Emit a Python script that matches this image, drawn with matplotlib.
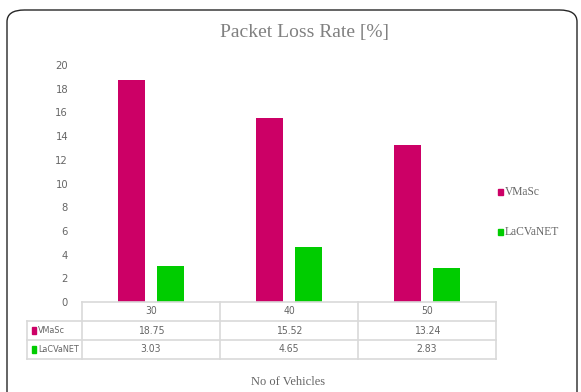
import matplotlib
matplotlib.use("Agg")
import matplotlib.pyplot as plt
from matplotlib.patches import FancyBboxPatch, Rectangle
from matplotlib import font_manager

categories = ["30", "40", "50"]
series_names = ["VMaSc", "LaCVaNET"]
vmasc = [18.75, 15.52, 13.24]
lacvanet = [3.03, 4.65, 2.83]
value_labels = [["18.75", "15.52", "13.24"], ["3.03", "4.65", "2.83"]]
y_ticks = [0, 2, 4, 6, 8, 10, 12, 14, 16, 18, 20]

colors = ["#CC0066", "#00CC00"]
text_gray = "#666666"
grid_gray = "#D9D9D9"

# prefer a narrow sans face for the numeric labels when one is installed
narrow = dict(family="Liberation Sans")
for f in font_manager.fontManager.ttflist:
    if "Narrow" in f.name or "Condensed" in f.name:
        narrow = dict(family=f.name)
        break
    if f.name == "DejaVu Sans" and str(f.stretch) in ("condensed", "semi-condensed"):
        narrow = dict(family="DejaVu Sans", stretch="condensed")
        break
serif = "Liberation Serif"

W, H = 581, 392
fig = plt.figure(figsize=(W / 100, H / 100), dpi=100)

def fx(px):
    return px / W

def fy(py):
    return 1 - py / H

# rounded outer frame
frame = FancyBboxPatch((fx(7), fy(405)), fx(577) - fx(7), fy(10) - fy(405),
                       boxstyle="round,pad=0,rounding_size=0.03",
                       transform=fig.transFigure, fill=False,
                       edgecolor="#262626", linewidth=1.0, clip_on=False)
fig.patches.append(frame)

# main plot area
left, right, top, bottom = 82, 496, 65, 302
ax = fig.add_axes([fx(left), fy(bottom), fx(right) - fx(left), fy(top) - fy(bottom)])
x = list(range(len(categories)))
w = 0.2
off = 0.141
ax.bar([i - off for i in x], vmasc, width=w, color=colors[0])
ax.bar([i + off for i in x], lacvanet, width=w, color=colors[1])
ax.set_xlim(-0.5, len(categories) - 0.5)
ax.set_ylim(0, 20)
ax.set_yticks(y_ticks)
ax.set_yticklabels([str(t) for t in y_ticks], fontsize=8, color=text_gray, **narrow)
ax.tick_params(axis="y", length=0, pad=10)
ax.set_xticks([])
for s in ax.spines.values():
    s.set_visible(False)
ax.patch.set_alpha(0)

# data table below the bars
tleft, tbottom = 27, 359
unit = (right - left) / len(categories)
tx0 = -0.5 - (left - tleft) / unit
tax = fig.add_axes([fx(tleft), fy(tbottom), fx(right) - fx(tleft), fy(bottom) - fy(tbottom)])
tax.set_xlim(tx0, len(categories) - 0.5)
tax.set_ylim(3, 0)
tax.axis("off")
lc = dict(color=grid_gray, linewidth=1.2, clip_on=False)
tax.plot([-0.5, len(categories) - 0.5], [0, 0], **lc)
for r in (1, 2, 3):
    tax.plot([tx0, len(categories) - 0.5], [r, r], **lc)
for i in range(len(categories) + 1):
    tax.plot([i - 0.5, i - 0.5], [0, 3], **lc)
tax.plot([tx0, tx0], [1, 3], **lc)
for i, c in enumerate(categories):
    tax.text(i, 0.5, c, ha="center", va="center", fontsize=7.5, color=text_gray, **narrow)
for r, name in enumerate(series_names):
    yy = r + 1.5
    tax.add_patch(Rectangle((tx0 + 0.034, yy - 0.17), 0.032, 0.34, color=colors[r], clip_on=False))
    tax.text(tx0 + 0.08, yy, name, ha="left", va="center", fontsize=6.5, color=text_gray, **narrow)
    for i in range(len(categories)):
        tax.text(i, yy, value_labels[r][i], ha="center", va="center", fontsize=7.5,
                 color=text_gray, **narrow)

# legend on the right
for r, (name, py) in enumerate(zip(series_names, [192, 232])):
    fig.patches.append(Rectangle((fx(498), fy(py + 3)), fx(5), fy(0) - fy(6),
                                 transform=fig.transFigure, color=colors[r]))
    fig.text(fx(505), fy(py), name, ha="left", va="center", fontsize=8.3,
             color=text_gray, family=serif)

fig.text(fx(305), fy(33), "Packet Loss Rate [%]", ha="center", va="center",
         fontsize=14, color="#808080", family=serif)
fig.text(fx(288), fy(382), "No of Vehicles", ha="center", va="center",
         fontsize=9, color=text_gray, family=serif)

fig.savefig("out.png", dpi=100)
